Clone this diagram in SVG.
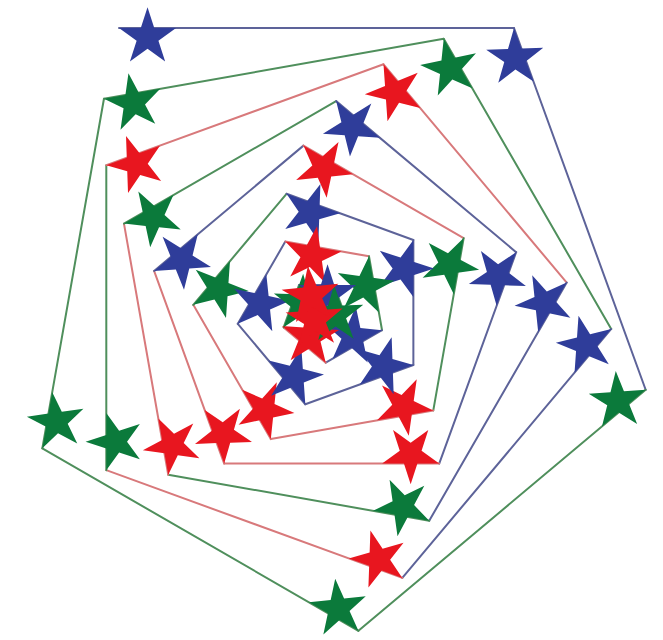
<svg xmlns="http://www.w3.org/2000/svg" xmlns:xlink="http://www.w3.org/1999/xlink" width="663" height="640" viewBox="0 0 663 640">
<style>
.lb{stroke:#5d6399;stroke-width:2;fill:none;stroke-linecap:round}
.lg{stroke:#4f8f5c;stroke-width:2;fill:none;stroke-linecap:round}
.lr{stroke:#d8797b;stroke-width:2;fill:none;stroke-linecap:round}
.b{fill:#2f3d9a}
.g{fill:#0b7a3b}
.r{fill:#e8161f}
</style>
<defs>
<path id="s" d="M28.53,-20.73 L35.27,0 L57.06,0 L39.43,12.81 L46.16,33.54 L28.53,20.73 L10.9,33.54 L17.63,12.81 L0,0 L21.79,0 Z"/>
</defs>
<rect width="663" height="640" fill="#ffffff"/>
<g id="connectors">
<line class="lb" x1="119" y1="28" x2="514" y2="28"/>
<line class="lb" x1="514" y1="28" x2="645.67" y2="389.78"/>
<line class="lg" x1="645.67" y1="389.78" x2="358.42" y2="630.83"/>
<line class="lg" x1="358.42" y1="630.83" x2="42.33" y2="448.33"/>
<line class="lg" x1="42.33" y1="448.33" x2="103.96" y2="98.73"/>
<line class="lg" x1="103.96" y1="98.73" x2="443.72" y2="38.84"/>
<line class="lg" x1="443.72" y1="38.84" x2="611.22" y2="328.95"/>
<line class="lb" x1="611.22" y1="328.95" x2="402.31" y2="577.9"/>
<line class="lr" x1="402.31" y1="577.9" x2="106.3" y2="470.17"/>
<line class="lg" x1="106.3" y1="470.17" x2="106.3" y2="165.17"/>
<line class="lr" x1="106.3" y1="165.17" x2="383.51" y2="64.28"/>
<line class="lr" x1="383.51" y1="64.28" x2="566.71" y2="282.59"/>
<line class="lb" x1="566.71" y1="282.59" x2="429.21" y2="520.74"/>
<line class="lg" x1="429.21" y1="520.74" x2="168.24" y2="474.74"/>
<line class="lr" x1="168.24" y1="474.74" x2="123.97" y2="223.61"/>
<line class="lg" x1="123.97" y1="223.61" x2="336.14" y2="101.11"/>
<line class="lb" x1="336.14" y1="101.11" x2="516.15" y2="252.17"/>
<line class="lb" x1="516.15" y1="252.17" x2="439.2" y2="463.6"/>
<line class="lr" x1="439.2" y1="463.6" x2="224.2" y2="463.6"/>
<line class="lr" x1="224.2" y1="463.6" x2="154.09" y2="270.96"/>
<line class="lb" x1="154.09" y1="270.96" x2="303.46" y2="145.61"/>
<line class="lr" x1="303.46" y1="145.61" x2="463.67" y2="238.11"/>
<line class="lg" x1="463.67" y1="238.11" x2="433.29" y2="410.45"/>
<line class="lr" x1="433.29" y1="410.45" x2="270.8" y2="439.09"/>
<line class="lr" x1="270.8" y1="439.09" x2="193.3" y2="304.86"/>
<line class="lg" x1="193.3" y1="304.86" x2="286.51" y2="193.79"/>
<line class="lb" x1="286.51" y1="193.79" x2="413.37" y2="239.96"/>
<line class="lb" x1="413.37" y1="239.96" x2="413.37" y2="364.96"/>
<line class="lb" x1="413.37" y1="364.96" x2="305.3" y2="404.29"/>
<line class="lb" x1="305.3" y1="404.29" x2="237.81" y2="323.86"/>
<line class="lb" x1="237.81" y1="323.86" x2="285.31" y2="241.59"/>
<line class="lr" x1="285.31" y1="241.59" x2="369.02" y2="256.35"/>
<line class="lg" x1="369.02" y1="256.35" x2="382.04" y2="330.21"/>
<line class="lb" x1="382.04" y1="330.21" x2="325.75" y2="362.71"/>
<line class="lr" x1="325.75" y1="362.71" x2="283.62" y2="327.36"/>
<line class="lg" x1="283.62" y1="327.36" x2="299.01" y2="285.07"/>
<line class="lb" x1="299.01" y1="285.07" x2="334.01" y2="285.07"/>
<line class="lg" x1="334.01" y1="285.07" x2="342.56" y2="308.56"/>
<line class="lr" x1="342.56" y1="308.56" x2="331.07" y2="318.2"/>
<line class="lr" x1="331.07" y1="318.2" x2="326.74" y2="315.7"/>
</g>
<g id="star-1"><use xlink:href="#s" class="b" transform="translate(119,28) rotate(0)"/></g>
<g id="star-2"><use xlink:href="#s" class="b" transform="translate(514,28) rotate(70)"/></g>
<g id="star-3"><use xlink:href="#s" class="g" transform="translate(645.67,389.78) rotate(140)"/></g>
<g id="star-4"><use xlink:href="#s" class="g" transform="translate(358.42,630.83) rotate(210)"/></g>
<g id="star-5"><use xlink:href="#s" class="g" transform="translate(42.33,448.33) rotate(280)"/></g>
<g id="star-6"><use xlink:href="#s" class="g" transform="translate(103.96,98.73) rotate(350)"/></g>
<g id="star-7"><use xlink:href="#s" class="g" transform="translate(443.72,38.84) rotate(60)"/></g>
<g id="star-8"><use xlink:href="#s" class="b" transform="translate(611.22,328.95) rotate(130)"/></g>
<g id="star-9"><use xlink:href="#s" class="r" transform="translate(402.31,577.9) rotate(200)"/></g>
<g id="star-10"><use xlink:href="#s" class="g" transform="translate(106.3,470.17) rotate(270)"/></g>
<g id="star-11"><use xlink:href="#s" class="r" transform="translate(106.3,165.17) rotate(340)"/></g>
<g id="star-12"><use xlink:href="#s" class="r" transform="translate(383.51,64.28) rotate(50)"/></g>
<g id="star-13"><use xlink:href="#s" class="b" transform="translate(566.71,282.59) rotate(120)"/></g>
<g id="star-14"><use xlink:href="#s" class="g" transform="translate(429.21,520.74) rotate(190)"/></g>
<g id="star-15"><use xlink:href="#s" class="r" transform="translate(168.24,474.74) rotate(260)"/></g>
<g id="star-16"><use xlink:href="#s" class="g" transform="translate(123.97,223.61) rotate(330)"/></g>
<g id="star-17"><use xlink:href="#s" class="b" transform="translate(336.14,101.11) rotate(40)"/></g>
<g id="star-18"><use xlink:href="#s" class="b" transform="translate(516.15,252.17) rotate(110)"/></g>
<g id="star-19"><use xlink:href="#s" class="r" transform="translate(439.2,463.6) rotate(180)"/></g>
<g id="star-20"><use xlink:href="#s" class="r" transform="translate(224.2,463.6) rotate(250)"/></g>
<g id="star-21"><use xlink:href="#s" class="b" transform="translate(154.09,270.96) rotate(320)"/></g>
<g id="star-22"><use xlink:href="#s" class="r" transform="translate(303.46,145.61) rotate(30)"/></g>
<g id="star-23"><use xlink:href="#s" class="g" transform="translate(463.67,238.11) rotate(100)"/></g>
<g id="star-24"><use xlink:href="#s" class="r" transform="translate(433.29,410.45) rotate(170)"/></g>
<g id="star-25"><use xlink:href="#s" class="r" transform="translate(270.8,439.09) rotate(240)"/></g>
<g id="star-26"><use xlink:href="#s" class="g" transform="translate(193.3,304.86) rotate(310)"/></g>
<g id="star-27"><use xlink:href="#s" class="b" transform="translate(286.51,193.79) rotate(20)"/></g>
<g id="star-28"><use xlink:href="#s" class="b" transform="translate(413.37,239.96) rotate(90)"/></g>
<g id="star-29"><use xlink:href="#s" class="b" transform="translate(413.37,364.96) rotate(160)"/></g>
<g id="star-30"><use xlink:href="#s" class="b" transform="translate(305.3,404.29) rotate(230)"/></g>
<g id="star-31"><use xlink:href="#s" class="b" transform="translate(237.81,323.86) rotate(300)"/></g>
<g id="star-32"><use xlink:href="#s" class="r" transform="translate(285.31,241.59) rotate(10)"/></g>
<g id="star-33"><use xlink:href="#s" class="g" transform="translate(369.02,256.35) rotate(80)"/></g>
<g id="star-34"><use xlink:href="#s" class="b" transform="translate(382.04,330.21) rotate(150)"/></g>
<g id="star-35"><use xlink:href="#s" class="r" transform="translate(325.75,362.71) rotate(220)"/></g>
<g id="star-36"><use xlink:href="#s" class="g" transform="translate(283.62,327.36) rotate(290)"/></g>
<g id="star-37"><use xlink:href="#s" class="b" transform="translate(299.01,285.07) rotate(0)"/></g>
<g id="star-38"><use xlink:href="#s" class="g" transform="translate(334.01,285.07) rotate(70)"/></g>
<g id="star-39"><use xlink:href="#s" class="r" transform="translate(342.56,308.56) rotate(140)"/></g>
<g id="star-40"><use xlink:href="#s" class="r" transform="translate(331.07,318.2) rotate(210)"/></g>
</svg>
